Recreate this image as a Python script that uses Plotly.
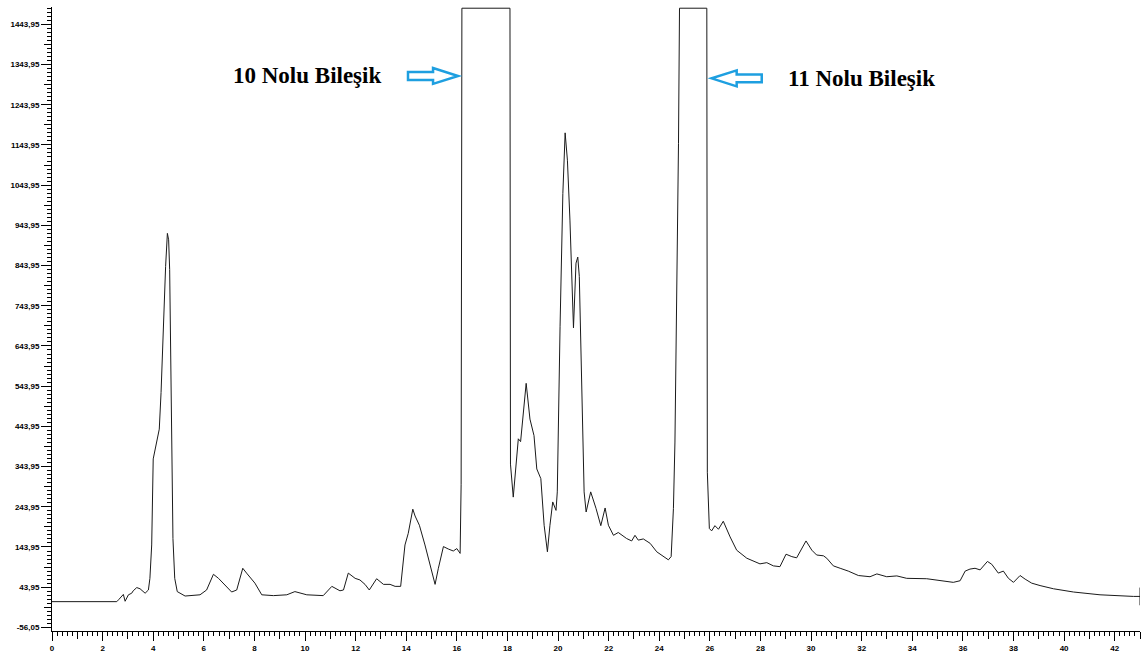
import plotly.graph_objects as go

# Retention time (min) and detector response of the chromatogram
time_min = [
    0.0, 2.56, 2.65, 2.82, 2.89, 3.02, 3.15, 3.21, 3.35, 3.48, 3.68, 3.81, 3.87, 3.94,
    4.00, 4.11, 4.24, 4.31, 4.40, 4.49, 4.56, 4.61, 4.65, 4.72, 4.78, 4.85, 4.95,
    5.26, 5.85, 6.11, 6.38, 6.58, 6.84, 7.10, 7.30, 7.54, 7.69, 7.89, 8.02, 8.29,
    8.75, 9.28, 9.60, 10.07, 10.72, 11.06, 11.38, 11.52, 11.71, 11.98, 12.17, 12.37,
    12.54, 12.83, 13.10, 13.36, 13.56, 13.78, 13.95, 14.08, 14.26, 14.35, 14.52,
    14.74, 14.97, 15.14, 15.27, 15.47, 15.66, 15.86, 16.00, 16.13, 16.17, 16.20,
    18.10, 18.12, 18.23, 18.43, 18.52, 18.74, 18.89, 19.05, 19.16, 19.32, 19.45,
    19.58, 19.68, 19.79, 19.92, 19.97, 20.08, 20.19, 20.28, 20.37, 20.47, 20.61,
    20.71, 20.78, 20.84, 20.94, 21.03, 21.11, 21.29, 21.50, 21.69, 21.86, 21.99,
    22.19, 22.38, 22.71, 22.91, 23.04, 23.17, 23.37, 23.64, 23.90, 24.16, 24.36,
    24.47, 24.56, 24.62, 24.69, 24.76, 24.80, 25.88, 25.90, 25.95, 25.98, 26.07,
    26.20, 26.34, 26.53, 26.80, 27.06, 27.46, 27.98, 28.25, 28.51, 28.77, 29.01,
    29.24, 29.43, 29.80, 30.03, 30.22, 30.49, 30.62, 30.88, 31.15, 31.47, 31.87,
    32.33, 32.60, 32.99, 33.39, 33.78, 34.57, 35.10, 35.62, 35.89, 36.09, 36.28,
    36.48, 36.68, 36.97, 37.14, 37.40, 37.60, 37.80, 38.00, 38.26, 38.46, 38.72,
    39.05, 39.58, 40.37, 41.42, 42.74, 43.00,
]
response = [
    8, 8, 14, 26, 9, 25, 29, 35, 43, 40, 29, 37, 66, 149,
    363, 396, 437, 528, 710, 842, 924, 908, 834, 380, 165, 66, 33,
    22, 25, 37, 76, 66, 50, 32, 37, 91, 79, 62, 54, 25,
    23, 25, 33, 25, 23, 46, 35, 37, 79, 66, 62, 51,
    37, 65, 51, 51, 46, 46, 149, 178, 238, 221, 198,
    149, 93, 51, 91, 145, 139, 134, 140, 128, 300, 1484,
    1484, 350, 268, 413, 406, 551, 462, 421, 338, 314, 198,
    132, 198, 256, 235, 281, 693, 1023, 1174, 1106, 957, 689,
    850, 865, 817, 487, 281, 231, 281, 240, 197, 241, 198,
    173, 180, 165, 159, 173, 161, 164, 153, 132, 120, 112,
    120, 240, 405, 735, 1147, 1484, 1484, 330, 220, 190, 184,
    197, 188, 208, 169, 136, 116, 102, 105, 97, 95, 126,
    120, 117, 159, 136, 124, 122, 116, 97, 91, 84, 73,
    70, 77, 70, 72, 66, 65, 60, 56, 60, 84, 89,
    91, 87, 108, 101, 79, 84, 66, 56, 73, 64, 54,
    48, 40, 32, 25, 21, 21,
]

# Axis ticks
x_major = list(range(0, 44, 2))
x_major_text = [str(v) for v in x_major]
x_medium = list(range(1, 44, 2))
y_major = [round(-56.05 + 100 * k, 2) for k in range(16)]
y_major_text = [f"{v:.2f}".replace(".", ",") for v in y_major]
y_medium = [round(-6.05 + 100 * k, 2) for k in range(15)]

X_RANGE = [0, 43]
Y_RANGE = [-65, 1487]

# Labels for the two saturated peaks
labels = ["10 Nolu Bileşik", "11 Nolu Bileşik"]
label_x = [10.07, 32.0]
label_y = [1316, 1310]

LINE = "#1a1a1a"
ARROW = "#1E9FE0"
TICKFONT = dict(family="Liberation Sans, Arial", size=8, color="black", weight="bold")

fig = go.Figure()
fig.add_trace(go.Scatter(x=time_min, y=response, mode="lines",
                         line=dict(color=LINE, width=1),
                         showlegend=False, hoverinfo="skip"))
# end-of-run marker
fig.add_trace(go.Scatter(x=[time_min[-1], time_min[-1]],
                         y=[response[-1] - 22, response[-1] + 22],
                         mode="lines", line=dict(color=LINE, width=1),
                         showlegend=False, hoverinfo="skip"))
# carrier for the overlay tick axes
fig.add_trace(go.Scatter(x=[None], y=[None], xaxis="x2", yaxis="y2",
                         showlegend=False, hoverinfo="skip"))


def block_arrow(x0, x1, yc, head_frac=0.5, half_shaft=9.9, half_head=19.8):
    """SVG path of a hollow block arrow from x0 (tail) to x1 (tip)."""
    xh = x0 + (x1 - x0) * (1 - head_frac)
    return (f"M {x0},{yc - half_shaft} L {xh},{yc - half_shaft} L {xh},{yc - half_head} "
            f"L {x1},{yc} L {xh},{yc + half_head} L {xh},{yc + half_shaft} "
            f"L {x0},{yc + half_shaft} Z")


fig.add_shape(type="path", xref="x", yref="y",
              path=block_arrow(14.07, 16.05, 1315.5),
              line=dict(color=ARROW, width=2.5), fillcolor="white")
fig.add_shape(type="path", xref="x", yref="y",
              path=block_arrow(28.05, 26.07, 1309.5),
              line=dict(color=ARROW, width=2.5), fillcolor="white")

for txt, xx, yy in zip(labels, label_x, label_y):
    fig.add_annotation(x=xx, y=yy, xref="x", yref="y", text=f"<b>{txt}</b>",
                       showarrow=False,
                       font=dict(family="Liberation Serif, Times New Roman",
                                 size=23, color="black"))

fig.update_layout(
    width=1143, height=656,
    margin=dict(l=52, r=3, t=7, b=23, pad=0),
    plot_bgcolor="white", paper_bgcolor="white",
    xaxis=dict(range=X_RANGE, tickmode="array", tickvals=x_major,
               ticktext=x_major_text, ticks="outside", ticklen=9, tickwidth=1,
               tickcolor="black", showline=True, linecolor="black", linewidth=1,
               showgrid=False, zeroline=False, tickfont=TICKFONT,
               minor=dict(tick0=0, dtick=0.2, ticks="outside", ticklen=4,
                          tickcolor="black", tickwidth=1, showgrid=False)),
    xaxis2=dict(range=X_RANGE, overlaying="x", anchor="y", side="bottom",
                tickmode="array", tickvals=x_medium, ticks="outside", ticklen=7,
                tickwidth=1, tickcolor="black", showticklabels=False,
                showline=False, showgrid=False, zeroline=False),
    yaxis=dict(range=Y_RANGE, tickmode="array", tickvals=y_major,
               ticktext=y_major_text, ticks="outside", ticklen=10, tickwidth=1,
               tickcolor="black", showline=True, linecolor="black", linewidth=1,
               showgrid=False, zeroline=False, tickfont=TICKFONT,
               minor=dict(tick0=-56.05, dtick=10, ticks="outside", ticklen=4,
                          tickcolor="black", tickwidth=1, showgrid=False)),
    yaxis2=dict(range=Y_RANGE, overlaying="y", anchor="x", side="left",
                tickmode="array", tickvals=y_medium, ticks="outside", ticklen=7,
                tickwidth=1, tickcolor="black", showticklabels=False,
                showline=False, showgrid=False, zeroline=False),
)

fig.write_html("out.html")
